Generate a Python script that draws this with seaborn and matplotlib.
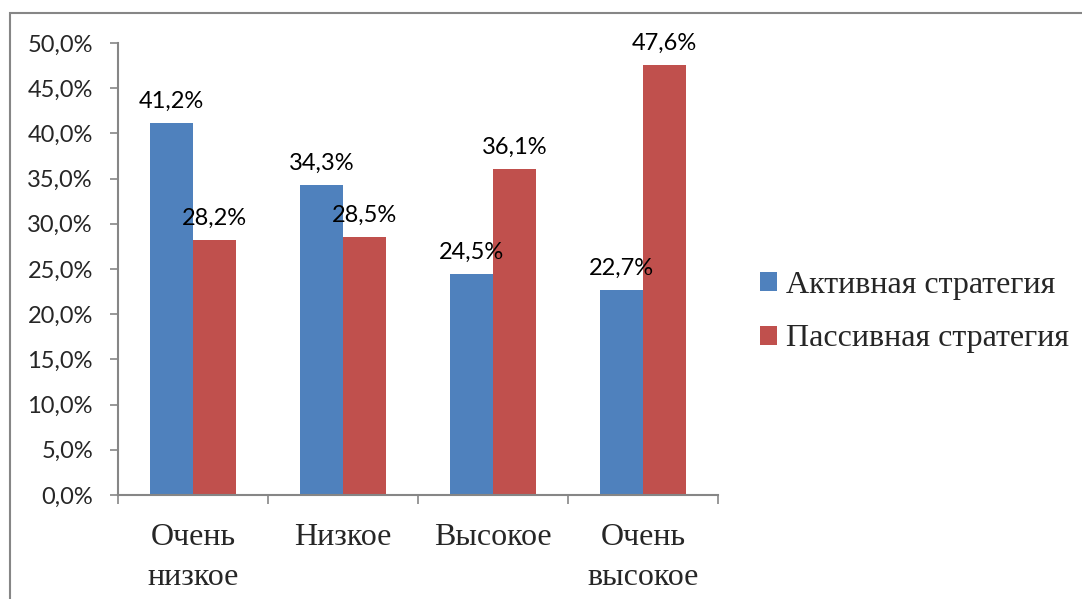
import numpy as np
import pandas as pd
import matplotlib
matplotlib.use("Agg")
import matplotlib.pyplot as plt
from matplotlib.patches import Rectangle
from matplotlib.ticker import FuncFormatter, FixedLocator
import seaborn as sns

# =============================================================================
# Data
# =============================================================================
categories = ["Очень\nнизкое", "Низкое", "Высокое", "Очень\nвысокое"]
series_names = ["Активная стратегия", "Пассивная стратегия"]
active_values = [41.2, 34.3, 24.5, 22.7]
passive_values = [28.2, 28.5, 36.1, 47.6]
colors = ["#4F81BD", "#C0504D"]

df = pd.DataFrame({
    "category": categories * 2,
    "strategy": [series_names[0]] * len(categories) + [series_names[1]] * len(categories),
    "value": active_values + passive_values,
})

# =============================================================================
# Plot
# =============================================================================
sns.set_style("white")
plt.rcParams["font.family"] = ["Lato", "DejaVu Sans"]

fig = plt.figure(figsize=(10.82, 5.99), dpi=100)
ax = fig.add_axes([118 / 1082, 1 - 495 / 599, 600 / 1082, 452 / 599])

sns.barplot(
    data=df, x="category", y="value", hue="strategy",
    palette=colors, saturation=1, width=0.573, ax=ax,
    edgecolor="none", linewidth=0,
)

# data labels
for container in ax.containers:
    ax.bar_label(container, labels=[f"{v:.1f}%".replace(".", ",") for v in container.datavalues],
                 padding=8, fontsize=17, color="black")

ax.set_ylim(0, 50)
ax.set_yticks(np.arange(0, 50.1, 5))
ax.yaxis.set_major_formatter(FuncFormatter(lambda v, p: f"{v:.1f}%".replace(".", ",")))
ax.tick_params(axis="y", labelsize=17, length=6, width=1.2, color="#868686", pad=12, left=True)

n = len(categories)
ax.set_xlim(-0.5, n - 0.5)
ax.xaxis.set_major_locator(FixedLocator(np.arange(-0.5, n, 1.0)))
ax.xaxis.set_minor_locator(FixedLocator(np.arange(n)))
ax.set_xticklabels([""] * (n + 1))
ax.set_xticklabels(categories, minor=True, fontfamily="Liberation Serif", fontsize=23,
                   linespacing=1.5, va="top")
ax.tick_params(axis="x", which="major", length=6.5, width=1.2, color="#868686", bottom=True)
ax.tick_params(axis="x", which="minor", length=0, pad=20.5)

ax.set_xlabel("")
ax.set_ylabel("")
for side in ["top", "right"]:
    ax.spines[side].set_visible(False)
for side in ["left", "bottom"]:
    ax.spines[side].set_color("#868686")
    ax.spines[side].set_linewidth(1.5)

# legend
handles, labels = ax.get_legend_handles_labels()
ax.legend(handles, labels, loc="center left", bbox_to_anchor=(731 / 1082, 1 - 312 / 599),
          bbox_transform=fig.transFigure, frameon=False,
          prop={"family": "Liberation Serif", "size": 23},
          handlelength=0.53, handleheight=0.53, handletextpad=0.3, labelspacing=0.78)

# outer chart frame
fig.patches.append(Rectangle((10 / 1082, -0.05), 1.1, 1.05 - 13 / 599, transform=fig.transFigure,
                             fill=False, edgecolor="#868686", linewidth=1.5))

fig.savefig("out.png", dpi=100)
